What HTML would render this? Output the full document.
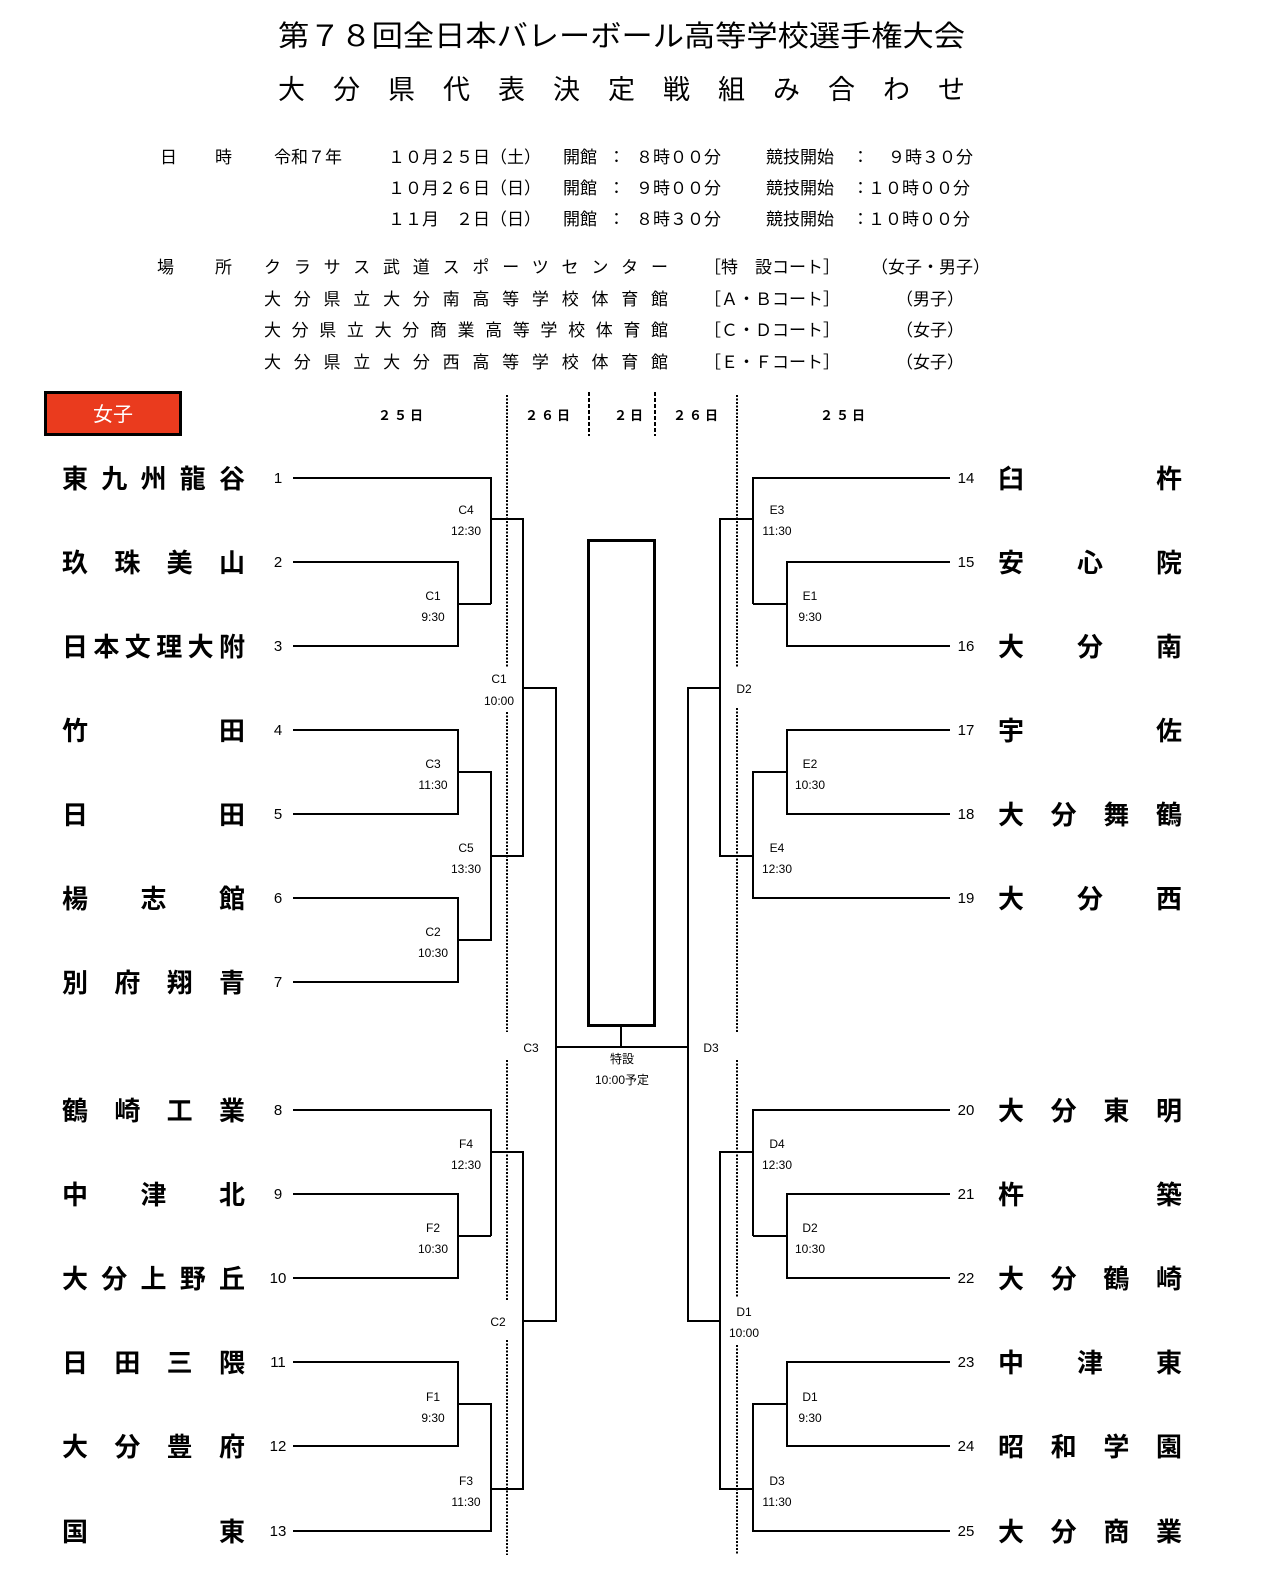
<!DOCTYPE html>
<html><head><meta charset="utf-8"><style>
html,body{margin:0;padding:0;background:#fff;overflow:hidden;width:1264px;height:1595px}
svg{display:block}
text{font-family:"Liberation Sans","Noto Sans CJK JP",sans-serif;fill:#000}
.t{font-size:27px}
.i{font-size:17px}
.n{font-size:26px;font-weight:bold}
.num{font-size:15px}
.l{font-size:12px;text-anchor:middle}
.d{font-size:13px;font-weight:bold;text-anchor:middle}
</style></head><body>
<svg width="1264" height="1595" viewBox="0 0 1264 1595" xmlns="http://www.w3.org/2000/svg">
<text class="t" x="278" y="46" style="font-size:29px" textLength="687" lengthAdjust="spacingAndGlyphs">第７８回全日本バレーボール高等学校選手権大会</text>
<text class="t" x="278" y="99" textLength="687" lengthAdjust="spacing">大分県代表決定戦組み合わせ</text>

<g class="i">
<text class="i" x="160" y="163" textLength="72" lengthAdjust="spacing">日時</text>
<text class="i" x="274" y="163">令和７年</text>
<text class="i" x="388" y="163">１０月２５日（土）</text>
<text class="i" x="388" y="194">１０月２６日（日）</text>
<text class="i" x="388" y="225">１１月　２日（日）</text>
<text class="i" x="563" y="163">開館</text><text class="i" x="563" y="194">開館</text><text class="i" x="563" y="225">開館</text>
<text class="i" x="608" y="163">：</text><text class="i" x="608" y="194">：</text><text class="i" x="608" y="225">：</text>
<text class="i" x="636" y="163">８時００分</text><text class="i" x="636" y="194">９時００分</text><text class="i" x="636" y="225">８時３０分</text>
<text class="i" x="766" y="163">競技開始</text><text class="i" x="766" y="194">競技開始</text><text class="i" x="766" y="225">競技開始</text>
<text class="i" x="852" y="163">：</text><text class="i" x="852" y="194">：</text><text class="i" x="852" y="225">：</text>
<text class="i" x="888" y="163">９時３０分</text><text class="i" x="868" y="194">１０時００分</text><text class="i" x="868" y="225">１０時００分</text>

<text class="i" x="157" y="273" textLength="75" lengthAdjust="spacing">場所</text>
<text class="i" x="264" y="273" textLength="404" lengthAdjust="spacing">クラサス武道スポーツセンター</text>
<text class="i" x="264" y="305" textLength="404" lengthAdjust="spacing">大分県立大分南高等学校体育館</text>
<text class="i" x="264" y="336" textLength="404" lengthAdjust="spacing">大分県立大分商業高等学校体育館</text>
<text class="i" x="264" y="368" textLength="404" lengthAdjust="spacing">大分県立大分西高等学校体育館</text>
<text class="i" x="704" y="273">［特　設コート］</text>
<text class="i" x="704" y="305">［Ａ・Ｂコート］</text>
<text class="i" x="704" y="336">［Ｃ・Ｄコート］</text>
<text class="i" x="704" y="368">［Ｅ・Ｆコート］</text>
<text class="i" x="871" y="273">（女子・男子）</text>
<text class="i" x="896" y="305">（男子）</text>
<text class="i" x="896" y="336">（女子）</text>
<text class="i" x="896" y="368">（女子）</text>
</g>

<rect x="45.5" y="392.5" width="135" height="42" fill="#ea3b1e" stroke="#000" stroke-width="3"/>
<text x="113" y="421" font-size="20" text-anchor="middle" style="fill:#fff">女子</text>

<text class="d" x="402" y="420" letter-spacing="3">２５日</text>
<text class="d" x="549" y="420" letter-spacing="3">２６日</text>
<text class="d" x="630" y="420" letter-spacing="3">２日</text>
<text class="d" x="697" y="420" letter-spacing="3">２６日</text>
<text class="d" x="844" y="420" letter-spacing="3">２５日</text>

<g stroke="#000" stroke-width="2" stroke-dasharray="4,2" fill="none">
<line x1="589" y1="392" x2="589" y2="436"/>
<line x1="655" y1="392" x2="655" y2="436"/>
</g>
<g stroke="#000" stroke-width="2" stroke-dasharray="2,1.5" fill="none">
<line x1="507" y1="395" x2="507" y2="668"/>
<line x1="507" y1="712" x2="507" y2="1032"/>
<line x1="507" y1="1060" x2="507" y2="1300"/>
<line x1="507" y1="1340" x2="507" y2="1555"/>
<line x1="737" y1="395" x2="737" y2="668"/>
<line x1="737" y1="708" x2="737" y2="1032"/>
<line x1="737" y1="1060" x2="737" y2="1298"/>
<line x1="737" y1="1345" x2="737" y2="1555"/>
</g>

<g stroke="#000" stroke-width="2" fill="none">
<polyline points="293,478 491,478 491,604"/>
<polyline points="293,562 458,562 458,646 293,646"/>
<line x1="458" y1="604" x2="491" y2="604"/>
<polyline points="491,519 523,519 523,856 491,856"/>
<polyline points="293,730 458,730 458,814 293,814"/>
<polyline points="458,772 491,772 491,940 458,940"/>
<polyline points="293,898 458,898 458,982 293,982"/>
<polyline points="523,688 556,688 556,1321 523,1321"/>
<polyline points="293,1110 491,1110 491,1236"/>
<polyline points="293,1194 458,1194 458,1278 293,1278"/>
<line x1="458" y1="1236" x2="491" y2="1236"/>
<polyline points="491,1152 523,1152 523,1489 491,1489"/>
<polyline points="293,1362 458,1362 458,1446 293,1446"/>
<polyline points="458,1404 491,1404 491,1531 293,1531"/>
<polyline points="950,478 753,478 753,604"/>
<polyline points="950,562 787,562 787,646 950,646"/>
<line x1="787" y1="604" x2="753" y2="604"/>
<polyline points="753,519 720,519 720,856 753,856"/>
<polyline points="950,730 787,730 787,814 950,814"/>
<polyline points="787,772 753,772 753,898 950,898"/>
<polyline points="720,688 688,688 688,1321 720,1321"/>
<polyline points="950,1110 753,1110 753,1236"/>
<polyline points="950,1194 787,1194 787,1278 950,1278"/>
<line x1="787" y1="1236" x2="753" y2="1236"/>
<polyline points="753,1152 720,1152 720,1489 753,1489"/>
<polyline points="950,1362 787,1362 787,1446 950,1446"/>
<polyline points="787,1404 753,1404 753,1531 950,1531"/>
<line x1="556" y1="1047" x2="688" y2="1047"/>
<line x1="621" y1="1025" x2="621" y2="1047"/>
</g>
<rect x="588.5" y="540.5" width="66" height="485" fill="none" stroke="#000" stroke-width="3"/>

<g>
<text class="l" x="466" y="514">C4</text><text class="l" x="466" y="535">12:30</text>
<text class="l" x="433" y="600">C1</text><text class="l" x="433" y="621">9:30</text>
<text class="l" x="499" y="683">C1</text><text class="l" x="499" y="705">10:00</text>
<text class="l" x="433" y="768">C3</text><text class="l" x="433" y="789">11:30</text>
<text class="l" x="466" y="852">C5</text><text class="l" x="466" y="873">13:30</text>
<text class="l" x="433" y="936">C2</text><text class="l" x="433" y="957">10:30</text>
<text class="l" x="531" y="1052">C3</text>
<text class="l" x="466" y="1148">F4</text><text class="l" x="466" y="1169">12:30</text>
<text class="l" x="433" y="1232">F2</text><text class="l" x="433" y="1253">10:30</text>
<text class="l" x="498" y="1326">C2</text>
<text class="l" x="433" y="1401">F1</text><text class="l" x="433" y="1422">9:30</text>
<text class="l" x="466" y="1485">F3</text><text class="l" x="466" y="1506">11:30</text>

<text class="l" x="777" y="514">E3</text><text class="l" x="777" y="535">11:30</text>
<text class="l" x="810" y="600">E1</text><text class="l" x="810" y="621">9:30</text>
<text class="l" x="744" y="693">D2</text>
<text class="l" x="810" y="768">E2</text><text class="l" x="810" y="789">10:30</text>
<text class="l" x="777" y="852">E4</text><text class="l" x="777" y="873">12:30</text>
<text class="l" x="711" y="1052">D3</text>
<text class="l" x="777" y="1148">D4</text><text class="l" x="777" y="1169">12:30</text>
<text class="l" x="810" y="1232">D2</text><text class="l" x="810" y="1253">10:30</text>
<text class="l" x="744" y="1316">D1</text><text class="l" x="744" y="1337">10:00</text>
<text class="l" x="810" y="1401">D1</text><text class="l" x="810" y="1422">9:30</text>
<text class="l" x="777" y="1485">D3</text><text class="l" x="777" y="1506">11:30</text>

<text class="l" x="622" y="1063">特設</text>
<text class="l" x="622" y="1084">10:00予定</text>
</g>

<g>
<text class="num" x="278" y="483" text-anchor="middle">1</text>
<text class="num" x="278" y="567" text-anchor="middle">2</text>
<text class="num" x="278" y="651" text-anchor="middle">3</text>
<text class="num" x="278" y="735" text-anchor="middle">4</text>
<text class="num" x="278" y="819" text-anchor="middle">5</text>
<text class="num" x="278" y="903" text-anchor="middle">6</text>
<text class="num" x="278" y="987" text-anchor="middle">7</text>
<text class="num" x="278" y="1115" text-anchor="middle">8</text>
<text class="num" x="278" y="1199" text-anchor="middle">9</text>
<text class="num" x="278" y="1283" text-anchor="middle">10</text>
<text class="num" x="278" y="1367" text-anchor="middle">11</text>
<text class="num" x="278" y="1451" text-anchor="middle">12</text>
<text class="num" x="278" y="1536" text-anchor="middle">13</text>
<text class="num" x="966" y="483" text-anchor="middle">14</text>
<text class="num" x="966" y="567" text-anchor="middle">15</text>
<text class="num" x="966" y="651" text-anchor="middle">16</text>
<text class="num" x="966" y="735" text-anchor="middle">17</text>
<text class="num" x="966" y="819" text-anchor="middle">18</text>
<text class="num" x="966" y="903" text-anchor="middle">19</text>
<text class="num" x="966" y="1115" text-anchor="middle">20</text>
<text class="num" x="966" y="1199" text-anchor="middle">21</text>
<text class="num" x="966" y="1283" text-anchor="middle">22</text>
<text class="num" x="966" y="1367" text-anchor="middle">23</text>
<text class="num" x="966" y="1451" text-anchor="middle">24</text>
<text class="num" x="966" y="1536" text-anchor="middle">25</text>
</g>

<g>
<text class="n" x="62" y="488" textLength="183" lengthAdjust="spacing">東九州龍谷</text>
<text class="n" x="62" y="572" textLength="183" lengthAdjust="spacing">玖珠美山</text>
<text class="n" x="62" y="656" textLength="183" lengthAdjust="spacing">日本文理大附</text>
<text class="n" x="62" y="740" textLength="183" lengthAdjust="spacing">竹田</text>
<text class="n" x="62" y="824" textLength="183" lengthAdjust="spacing">日田</text>
<text class="n" x="62" y="908" textLength="183" lengthAdjust="spacing">楊志館</text>
<text class="n" x="62" y="992" textLength="183" lengthAdjust="spacing">別府翔青</text>
<text class="n" x="62" y="1120" textLength="183" lengthAdjust="spacing">鶴崎工業</text>
<text class="n" x="62" y="1204" textLength="183" lengthAdjust="spacing">中津北</text>
<text class="n" x="62" y="1288" textLength="183" lengthAdjust="spacing">大分上野丘</text>
<text class="n" x="62" y="1372" textLength="183" lengthAdjust="spacing">日田三隈</text>
<text class="n" x="62" y="1456" textLength="183" lengthAdjust="spacing">大分豊府</text>
<text class="n" x="62" y="1541" textLength="183" lengthAdjust="spacing">国東</text>

<text class="n" x="998" y="488" textLength="184" lengthAdjust="spacing">臼杵</text>
<text class="n" x="998" y="572" textLength="184" lengthAdjust="spacing">安心院</text>
<text class="n" x="998" y="656" textLength="184" lengthAdjust="spacing">大分南</text>
<text class="n" x="998" y="740" textLength="184" lengthAdjust="spacing">宇佐</text>
<text class="n" x="998" y="824" textLength="184" lengthAdjust="spacing">大分舞鶴</text>
<text class="n" x="998" y="908" textLength="184" lengthAdjust="spacing">大分西</text>
<text class="n" x="998" y="1120" textLength="184" lengthAdjust="spacing">大分東明</text>
<text class="n" x="998" y="1204" textLength="184" lengthAdjust="spacing">杵築</text>
<text class="n" x="998" y="1288" textLength="184" lengthAdjust="spacing">大分鶴崎</text>
<text class="n" x="998" y="1372" textLength="184" lengthAdjust="spacing">中津東</text>
<text class="n" x="998" y="1456" textLength="184" lengthAdjust="spacing">昭和学園</text>
<text class="n" x="998" y="1541" textLength="184" lengthAdjust="spacing">大分商業</text>
</g>
</svg>
</body></html>
